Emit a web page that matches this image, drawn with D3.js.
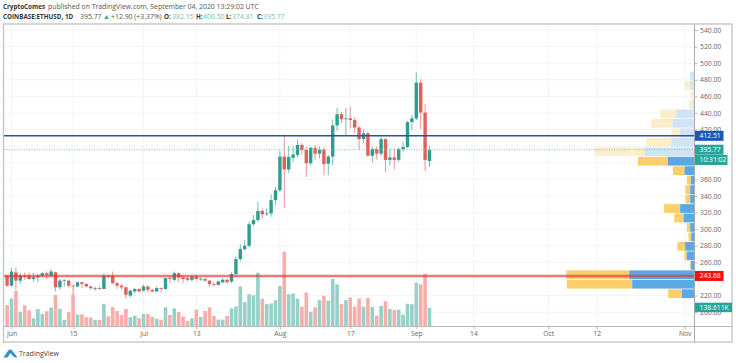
<html lang="en">
<head>
  <meta charset="UTF-8"/>
  <script src="https://d3js.org/d3.v7.min.js"></script>
  <style>
body { margin: 0; background: #fff; font-family: 'Open Sans', sans-serif; }
svg { display: block; }
text { font-family: 'Open Sans', sans-serif; }
.axis text { font-size: 6.8px; fill: #666; }
.axis line { stroke: #b5b5b5; }
.axis path { display: none; }
.grid line { stroke: #f2f5f6; }
.tag { font-size: 6.8px; fill: #fff; }
  </style>
</head>
<body>
<svg id="chart" width="736" height="363"></svg>

<script>
// first candle is May 31, one bar per day up to Sep 4
const firstDay = Date.UTC(2020, 4, 31)

const opens = [244,232,248,238,244,244,240,242,244,247,244,248,230,238,238,232,231,236,234,231,228.5,229,228,244,244,235,232,230,220,225,228,226,231,227,225,229,228,241,239,247,242,241,239,243,239.8,240,238,234,233,236,239,237,246,264,276,280,306,311,322,318,319,335,347,387.5,372,386,389.5,401.5,395.5,379.5,398,391,396,379,387.5,425,438.5,433,433.5,431.5,422.5,408.5,415.5,388.5,396.5,391,408.5,383.5,386.5,383.5,396.5,399,429,433.5,476.5,440.5,382.15]
const highs = [245,253,254,247,248,248,247,246,248,249,252,249,240,239,239,233,237,237,235,232,231,231,247,245,249,236,234,231,227,229,229,233,232,228,231,230,242,244,249,248,245,243,245,245,242,241,239,236,238,241,240,248,267,282,287,309,317,333,325,325,342,351,394,414,400,400,408,403.5,399,399.5,401.5,399.5,398.5,389.5,432,446,441.5,446,447.5,435,424.5,419.5,417.5,399.5,399.5,411,410,397.5,397.5,398.5,405.5,430.5,437.5,489,481,450.5,400.5]
const lows = [230,231,227,234,239,239,237,236,242,240,243,225,227,231,230,221,230,229,230,227,226,227,228,241,234,228,227,216,218,223,224,225,224,224,224,224,227,235,237,236,235,237,237,238,238,237,230,231,232,235,235,235,244,261,274,278,304,309,313,316,315,329,345,326,368,381,387,390,363,377,383.5,385.5,365,365,377,418.5,427.5,413.5,421.5,415.5,395,403.5,387.5,380.5,384,388,369,377,372,381,393.5,397.5,419.5,431.5,420.5,370,374.81]
const closes = [232,249,238,244,243,240,242,244,247,245,249,230,238,239,232,231,236,234,231,229,229,228.5,244,243,235,232,230,221,226,228,225,231,227,225,229,228,241,240,247,242,240,239,243,240,240.5,238,234,233,237,239,236,246,264,276,280,306,311,322,318,319,335,347,387.5,372,387,390,401.5,395.5,379.5,398,391,396,378.5,387.5,425,438.5,432.5,433.5,431.5,422.5,408.5,415.5,388.5,396.5,391,408.5,383.5,386.5,383.5,396.5,399,429,433.5,476.5,440.5,383.5,395.77]
// thousands
const volumes = [158,207,262,109,156,119,61,129,92,112,139,233,131,49,107,236,87,90,68,68,49,49,165,75,143,114,85,129,68,80,61,92,92,70,56,49,141,85,134,107,73,41,61,124,70,114,141,78,51,51,78,134,148,296,180,238,231,396,204,165,170,194,299,552,238,243,204,146,250,109,141,194,226,190,350,311,165,194,214,146,207,146,211,143,80,151,187,129,122,124,87,168,165,323,311,389,138.611]

const priceGrid = [540,520,500,480,460,440,420,400,380,360,340,320,300,280,260,240,220,200]
// 400, 380 and 240 sit under the price tags, so they get no label
const priceTicks = [540,520,500,480,460,440,420,360,340,320,300,280,260,220,200]
const dateTicks = [[2020,5,1],[2020,5,15],[2020,6,1],[2020,6,13],[2020,7,1],[2020,7,17],[2020,8,1],[2020,8,14],[2020,9,1],[2020,9,12],[2020,10,1]]
const dateLabels = ['Jun','15','Jul','13','Aug','17','Sep','14','Oct','12','Nov']

// visible range volume profile, top row first
const rowTops = [489.8,478.4,467,455.6,444.2,432.8,421.4,410,398.6,387.2,375.8,364.4,353,341.6,330.2,318.8,307.4,296,284.6,273.2,261.8,250.4,239,227.6]
const rowBottoms = [478.4,467,455.6,444.2,432.8,421.4,410,398.6,387.2,375.8,364.4,353,341.6,330.2,318.8,307.4,296,284.6,273.2,261.8,250.4,239,227.6,216.2]
const rowUp = [13,13,3,6,55,66,43,70,149,80,30,11,13,13,43,33,13,10,28,23,11,196,187,38]
const rowDown = [0,15,8,10,48,65,27,75,151,90,35,12,14,14,48,28,10,8,23,7,2,189,196,41]

const lastPrice = 395.77
const resistance = 412.51
const support = 243.68

const svg = d3.select('#chart')

const paneLeft = 4, paneRight = 694.5, paneTop = 24.5, paneBottom = 326.5, outerRight = 732, outerBottom = 342

const x = d3.scaleUtc()
  .domain([new Date(Date.UTC(2020, 5, 1)), new Date(Date.UTC(2020, 10, 1))])
  .range([11.5, 684.7])
const y = d3.scaleLinear().domain([200, 540]).range([312.2, 30])
const volY = d3.scaleLinear().domain([0, 138.611]).range([paneBottom, 307.7])
const rowX = d3.scaleLinear().domain([0, 385]).range([0, 128.3])

const tickDates = dateTicks.map(d => new Date(Date.UTC(d[0], d[1], d[2])))
const bars = opens.map((o, i) => ({
  date: new Date(firstDay + i * 864e5), o, h: highs[i], l: lows[i], c: closes[i], v: volumes[i]
}))

svg.append('clipPath').attr('id', 'pane').append('rect')
  .attr('x', paneLeft).attr('y', paneTop).attr('width', paneRight - paneLeft).attr('height', paneBottom - paneTop)

// grid
const grid = svg.append('g').attr('class', 'grid')
grid.selectAll('.h').data(priceGrid).enter().append('line')
  .attr('class', 'h')
  .attr('x1', paneLeft).attr('x2', paneRight).attr('y1', d => y(d)).attr('y2', d => y(d))
grid.selectAll('.v').data(tickDates).enter().append('line')
  .attr('class', 'v')
  .attr('x1', d => x(d)).attr('x2', d => x(d)).attr('y1', paneTop).attr('y2', paneBottom)

const pane = svg.append('g').attr('clip-path', 'url(#pane)')

// volume
pane.selectAll('.vol').data(bars).enter().append('rect')
  .attr('class', 'vol')
  .attr('x', d => x(d.date) - 1.8)
  .attr('width', 3.6)
  .attr('y', d => volY(d.v))
  .attr('height', d => paneBottom - volY(d.v))
  .attr('fill', d => d.c >= d.o ? '#95d1c8' : '#f7aeaa')

// profile
const rows = svg.append('g').selectAll('g').data(rowTops).enter().append('g')
rows.append('rect')
  .attr('x', (d, i) => paneRight - rowX(rowUp[i] + rowDown[i]))
  .attr('width', (d, i) => rowX(rowDown[i]))
  .attr('y', d => y(d))
  .attr('height', (d, i) => y(rowBottoms[i]) - y(d) - 0.7)
  .attr('fill', d => d > lastPrice ? '#fdeeca' : '#fbcf6c')
rows.append('rect')
  .attr('x', (d, i) => paneRight - rowX(rowUp[i]))
  .attr('width', (d, i) => rowX(rowUp[i]))
  .attr('y', d => y(d))
  .attr('height', (d, i) => y(rowBottoms[i]) - y(d) - 0.7)
  .attr('fill', d => d > lastPrice ? '#cfe4f6' : '#5aa9e6')

// candles
const candleColor = d => d.c >= d.o ? '#2f9d8f' : '#e2605a'
const candles = svg.append('g').attr('clip-path', 'url(#pane)')
candles.selectAll('.wick').data(bars).enter().append('line')
  .attr('class', 'wick')
  .attr('x1', d => x(d.date)).attr('x2', d => x(d.date))
  .attr('y1', d => y(d.h)).attr('y2', d => y(d.l))
  .attr('stroke', candleColor).attr('stroke-opacity', 0.75).attr('stroke-width', 0.9)
candles.selectAll('.body').data(bars).enter().append('rect')
  .attr('class', 'body')
  .attr('x', d => x(d.date) - 1.7)
  .attr('width', 3.4)
  .attr('y', d => y(Math.max(d.o, d.c)))
  .attr('height', d => Math.max(0.8, Math.abs(y(d.o) - y(d.c))))
  .attr('fill', candleColor)

// level lines
svg.append('line').attr('x1', paneLeft).attr('x2', paneRight).attr('y1', y(lastPrice)).attr('y2', y(lastPrice))
  .attr('stroke', '#7cc4b8').attr('stroke-dasharray', '1 1.5')
svg.append('line').attr('x1', paneLeft).attr('x2', paneRight).attr('y1', y(resistance)).attr('y2', y(resistance))
  .attr('stroke', '#1c57a8').attr('stroke-width', 1.4)
svg.append('line').attr('x1', paneLeft).attr('x2', paneRight).attr('y1', y(support)).attr('y2', y(support))
  .attr('stroke', '#e2332f').attr('stroke-opacity', 0.65).attr('stroke-width', 2.5)

// frame
const frame = svg.append('g').attr('fill', 'none').attr('stroke', '#c6c6c6')
frame.append('rect').attr('x', 3.5).attr('y', 24).attr('width', outerRight - 3.5).attr('height', outerBottom - 24).attr('stroke-width', 1.4)
frame.append('line').attr('x1', paneLeft).attr('x2', outerRight).attr('y1', paneBottom).attr('y2', paneBottom).attr('stroke', '#bbb')
frame.append('line').attr('x1', paneRight).attr('x2', paneRight).attr('y1', paneTop).attr('y2', outerBottom).attr('stroke', '#aaa')

// axes
svg.append('g').attr('class', 'axis')
  .attr('transform', `translate(${paneRight},0)`)
  .call(d3.axisRight(y).tickValues(priceTicks).tickFormat(d3.format('.2f')).tickSize(3).tickPadding(2.5))
svg.append('g').attr('class', 'axis')
  .attr('transform', `translate(0,${paneBottom})`)
  .call(d3.axisBottom(x).tickValues(tickDates).tickFormat((d, i) => dateLabels[i]).tickSize(2.5).tickPadding(2.5))

// price tags
const tags = [
  { text: '412.51', price: resistance, w: 28.5, fill: '#1c57b8' },
  { text: '395.77', price: lastPrice, w: 28.5, fill: '#26a69a' },
  { text: '10:31:02', price: 383.4, w: 32.5, fill: '#26a69a' },
  { text: '243.68', price: support, w: 28.5, fill: '#f50f0f' }
]
const tagG = svg.selectAll('.tagbox').data(tags).enter().append('g')
tagG.append('rect').attr('x', paneRight + 0.5).attr('width', d => d.w).attr('y', d => y(d.price) - 5).attr('height', 10).attr('fill', d => d.fill)
tagG.append('text').attr('class', 'tag').attr('x', paneRight + 5).attr('y', d => y(d.price) + 2.5).text(d => d.text)

svg.append('rect').attr('x', paneRight + 0.5).attr('width', 37).attr('y', volY(138.611) - 5).attr('height', 9.5).attr('fill', '#26a69a')
svg.append('text').attr('class', 'tag').attr('x', paneRight + 5).attr('y', volY(138.611) + 2.3).text('138.611K')

// header
const head = svg.append('g').style('font-size', '6.9px')
function label(px, py, str, color, bold) {
  head.append('text').attr('x', px).attr('y', py).attr('fill', color)
    .attr('font-weight', bold ? 700 : 400).style('font-size', bold ? '6.3px' : null).text(str)
}
label(3, 9.3, 'CryptoComes', '#333', true)
label(48, 9.3, 'published on TradingView.com, September 04, 2020 13:29:02 UTC', '#555', false)
label(3, 18.8, 'COINBASE:ETHUSD, 1D', '#333', true)
label(80, 18.8, '395.77', '#555', false)
label(103, 18.8, '▲', '#26a69a', false)
label(111, 18.8, '+12.90 (+3.37%)', '#555', false)
label(164, 18.8, 'O:', '#333', true)
label(172, 18.8, '382.15', '#6cc3b6', false)
label(196, 18.8, 'H:', '#333', true)
label(203, 18.8, '400.50', '#6cc3b6', false)
label(226, 18.8, 'L:', '#333', true)
label(232, 18.8, '374.81', '#6cc3b6', false)
label(257, 18.8, 'C:', '#333', true)
label(263, 18.8, '395.77', '#6cc3b6', false)

// logo
svg.append('path')
  .attr('d', 'M3.5 357.5 L7.5 351.5 Q10 348 12.5 351 L17.5 357.5 Q14 358 12.5 355.5 L10.5 353 L7.5 357.5 Z')
  .attr('fill', '#2f8fd8')
svg.append('text').attr('x', 19).attr('y', 355.5).attr('fill', '#444').attr('font-size', '7px').text('TradingView')
</script>
</body>
</html>
